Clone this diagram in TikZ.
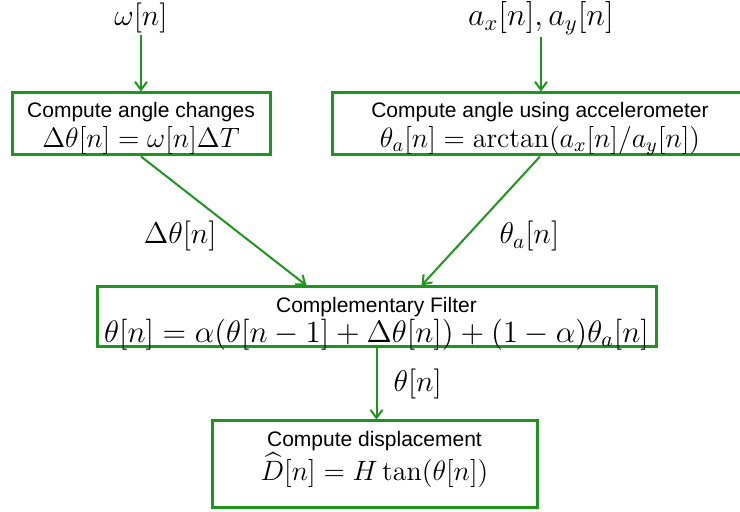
\RequirePackage{fix-cm}
\documentclass[tikz,border=0pt]{standalone}
\usepackage{amsmath}
\usepackage{fontspec}
\setsansfont{Liberation Sans}
\usetikzlibrary{arrows.meta,positioning,calc}
\definecolor{cGreen}{RGB}{30,150,30}
\newcommand{\eqsize}{\fontsize{14}{15}\selectfont}
\newcommand{\bigeqsize}{\fontsize{15.5}{15}\selectfont}
\tikzset{
  basebox/.style={rectangle,draw=cGreen,line width=1.5pt,fill=white},
  boxtext/.style={align=center,inner sep=0pt,
                  font=\sffamily\fontsize{10.5}{15}\selectfont},
  filttext/.style={boxtext,font=\sffamily\fontsize{10.5}{13.5}\selectfont},
  outtext/.style={boxtext,font=\sffamily\fontsize{10.5}{17}\selectfont},
  sig/.style={inner sep=1pt,text=black,font=\fontsize{15}{18}\selectfont},
  arr/.style={-{Straight Barb[length=4pt,width=6pt]},line width=1pt,color=cGreen}
}
\begin{document}
\begin{tikzpicture}[x=0.5pt,y=-0.5pt]
  \useasboundingbox (0,0) rectangle (740,512);

  % Inputs
  \node[sig] (omega) at (141,18) {$\omega[n]$};
  \node[sig,font=\fontsize{16}{18}\selectfont] (accin) at (541,18) {$a_x[n], a_y[n]$};

  % Angle from gyro
  \node[basebox,minimum width=129pt,minimum height=31pt,
        label={[boxtext,yshift=-2.25pt]center:{Compute angle changes\\
               {\eqsize$\Delta\theta[n] = \omega[n]\Delta T$}}}] (gyro) at (141,124) {};

  % Angle from accelerometer
  \node[basebox,minimum width=208pt,minimum height=31pt,
        label={[boxtext,yshift=-2.25pt]center:{Compute angle using accelerometer\\
               {\eqsize$\theta_a[n] = \arctan(a_x[n]/a_y[n])$}}}] (accel) at (540,124) {};

  % Filter
  \node[basebox,minimum width=279.5pt,minimum height=30pt,
        label={[filttext,yshift=-3.25pt]center:{Complementary Filter\\
               {\bigeqsize$\theta[n] = \alpha(\theta[n-1] + \Delta\theta[n]) + (1-\alpha)\theta_a[n]$}}}]
        (filt) at (376.5,317) {};

  % Output
  \node[basebox,minimum width=162.5pt,minimum height=43.5pt,
        label={[outtext,yshift=2.5pt]center:{Compute displacement\\
               {\eqsize$\widehat{D}[n] = H\tan(\theta[n])$}}}] (disp) at (374.5,464.5) {};

  % Arrows
  \draw[arr] (omega.south) -- (omega.south |- gyro.north);
  \draw[arr] (accin.south) -- (accin.south |- accel.north);
  \draw[arr] (gyro.south) -- ($(filt.north)+(-70,0)$)
      node[sig,pos=0.62,left=12pt]{$\Delta\theta[n]$};
  \draw[arr] (accel.south) -- ($(filt.north)+(45,0)$)
      node[sig,pos=0.62,right=15pt]{$\theta_a[n]$};
  \draw[arr] (filt.south) -- (filt.south |- disp.north)
      node[sig,midway,right=7pt]{$\theta[n]$};

\end{tikzpicture}
\end{document}
